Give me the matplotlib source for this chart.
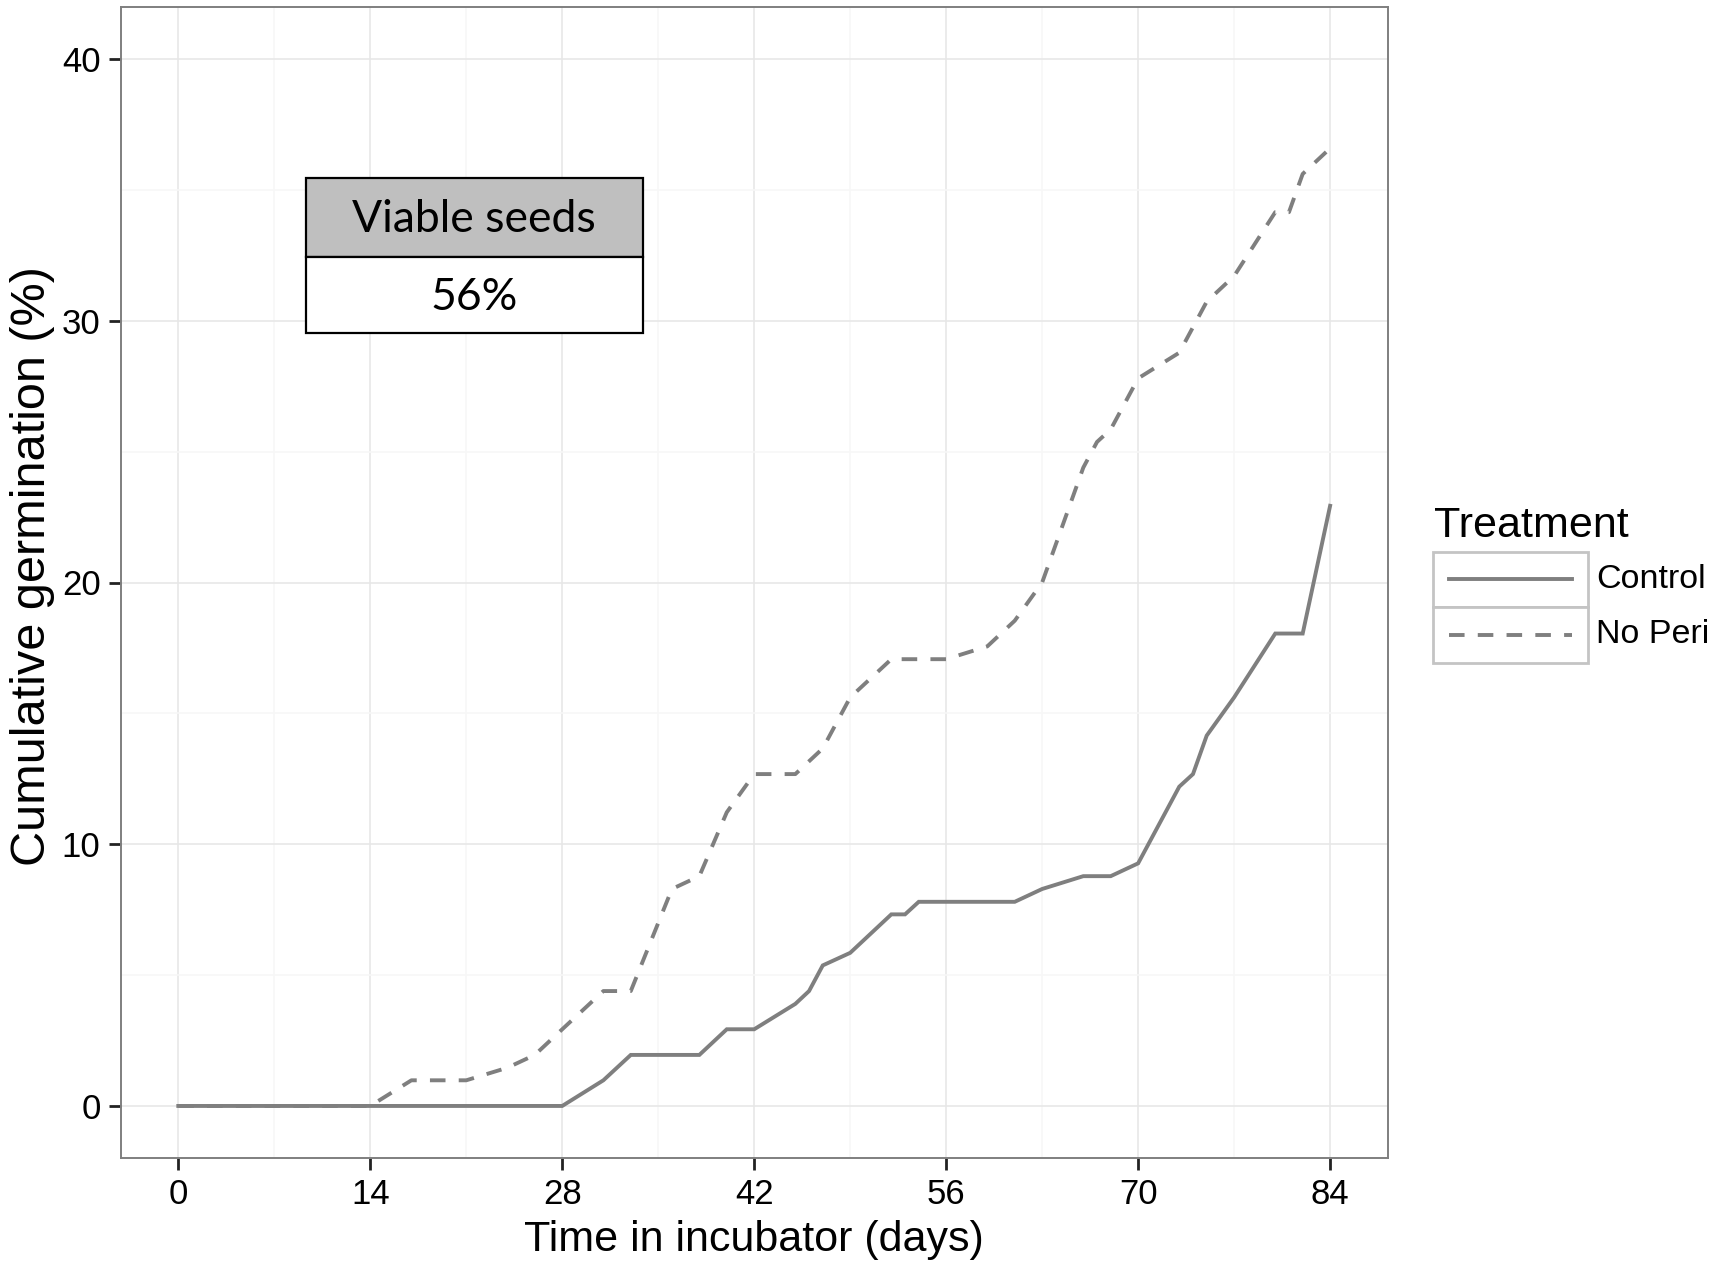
import matplotlib
matplotlib.use("Agg")
import matplotlib.pyplot as plt
from matplotlib.patches import Rectangle
from matplotlib.lines import Line2D

# ---- data ----
control_days = [0, 28, 31, 33, 38, 40, 42, 45, 46, 47, 49, 52, 53, 54, 61, 63, 66, 68,
                70, 73, 74, 75, 77, 80, 82, 84]
control_pct = [0, 0, 0.98, 1.95, 1.95, 2.93, 2.93, 3.90, 4.39, 5.37, 5.85, 7.32, 7.32, 7.80,
               7.80, 8.29, 8.78, 8.78, 9.27, 12.20, 12.68, 14.15, 15.61, 18.05, 18.05, 22.93]

noperi_days = [0, 14, 17, 21, 24, 26, 28, 31, 33, 36, 38, 40, 42, 45, 47, 49, 52, 56, 59,
               61, 63, 66, 67, 68, 70, 73, 75, 77, 80, 81, 82, 84]
noperi_pct = [0, 0, 0.98, 0.98, 1.46, 1.95, 2.93, 4.39, 4.39, 8.29, 8.78, 11.22, 12.68, 12.68,
              13.66, 15.61, 17.07, 17.07, 17.56, 18.54, 20.00, 24.39, 25.37, 25.85, 27.80,
              28.78, 30.73, 31.71, 34.15, 34.15, 35.61, 36.59]

series_names = ["Control", "No Peri"]
legend_title = "Treatment"
x_ticks = [0, 14, 28, 42, 56, 70, 84]
x_minor = [7, 21, 35, 49, 63, 77]
y_ticks = [0, 10, 20, 30, 40]
y_minor = [5, 15, 25, 35]
table_header = "Viable seeds"
table_value = "56%"

# ---- style ----
W, H = 1724, 1269
plt.rcParams['font.family'] = ['Liberation Sans', 'DejaVu Sans']
fig = plt.figure(figsize=(W / 100, H / 100), dpi=100)

def fx(px):
    return px / W

def fy(py):
    return 1 - py / H

left, right, top, bottom = 120.7, 1387.7, 6.7, 1158.3
ax = fig.add_axes([fx(left), fy(bottom), fx(right) - fx(left), fy(top) - fy(bottom)])

line_col = '#7f7f7f'
lw = 2.8
dash = (0, (4.0, 3.4))

ax.plot(control_days, control_pct, color=line_col, lw=lw, solid_joinstyle='miter', zorder=3)
ax.plot(noperi_days, noperi_pct, color=line_col, lw=lw, linestyle=dash, zorder=3)

ax.set_xlim(-4.2, 88.2)
ax.set_ylim(-2, 42)
ax.set_xticks(x_ticks)
ax.set_xticks(x_minor, minor=True)
ax.set_yticks(y_ticks)
ax.set_yticks(y_minor, minor=True)
ax.grid(which='major', color='#e6e6e6', lw=1.1, zorder=0)
ax.grid(which='minor', color='#f7f7f7', lw=1.1, zorder=0)
ax.set_axisbelow(True)
ax.tick_params(which='major', length=8.5, width=2.0, color='#222222', labelsize=25,
               labelcolor='black', pad=6)
ax.tick_params(which='minor', length=0)
for s in ax.spines.values():
    s.set_color('#7f7f7f')
    s.set_linewidth(1.4)

ax.set_xlabel("Time in incubator (days)", fontsize=31, labelpad=6)
ax.set_ylabel("Cumulative germination (%)", fontsize=35)
ax.yaxis.label.set_va('center')
ax.yaxis.set_label_coords((33 - left) / (right - left), (bottom - 566) / (bottom - top))

# ---- inset table ----
tx0, tx1 = 305.7, 642.7
ty_top, ty_mid, ty_bot = 178.3, 256.7, 333.3
fig.add_artist(Rectangle((fx(tx0), fy(ty_mid)), fx(tx1) - fx(tx0), fy(ty_top) - fy(ty_mid),
                         transform=fig.transFigure, facecolor='#bfbfbf', edgecolor='black', lw=1.6))
fig.add_artist(Rectangle((fx(tx0), fy(ty_bot)), fx(tx1) - fx(tx0), fy(ty_mid) - fy(ty_bot),
                         transform=fig.transFigure, facecolor='white', edgecolor='black', lw=1.6))
fig.text(fx((tx0 + tx1) / 2), fy((ty_top + ty_mid) / 2 + 2), table_header, family=['Lato', 'DejaVu Sans'],
         fontsize=32, ha='center', va='center')
fig.text(fx((tx0 + tx1) / 2), fy((ty_mid + ty_bot) / 2 + 2), table_value, family=['Lato', 'DejaVu Sans'],
         fontsize=32, ha='center', va='center')

# ---- legend ----
kx0, kx1 = 1433.3, 1587.7
k_top, k_mid, k_bot = 551.7, 606.7, 662.7
fig.text(fx(1434), fy(536.7), legend_title, fontsize=31, ha='left', va='baseline')
for (yt, yb) in [(k_top, k_mid), (k_mid, k_bot)]:
    fig.add_artist(Rectangle((fx(kx0), fy(yb)), fx(kx1) - fx(kx0), fy(yt) - fy(yb),
                             transform=fig.transFigure, facecolor='white', edgecolor='#c4c4c4', lw=2.0))
styles = ['-', dash]
for i, name in enumerate(series_names):
    yc = (k_top + k_mid) / 2 if i == 0 else (k_mid + k_bot) / 2
    fig.add_artist(Line2D([fx(1449), fx(1572)], [fy(yc), fy(yc)], transform=fig.transFigure,
                          color=line_col, lw=lw, linestyle=styles[i]))
    fig.text(fx(1596), fy(yc), name, fontsize=24.5, ha='left', va='center')

fig.savefig("out.png", dpi=100)
